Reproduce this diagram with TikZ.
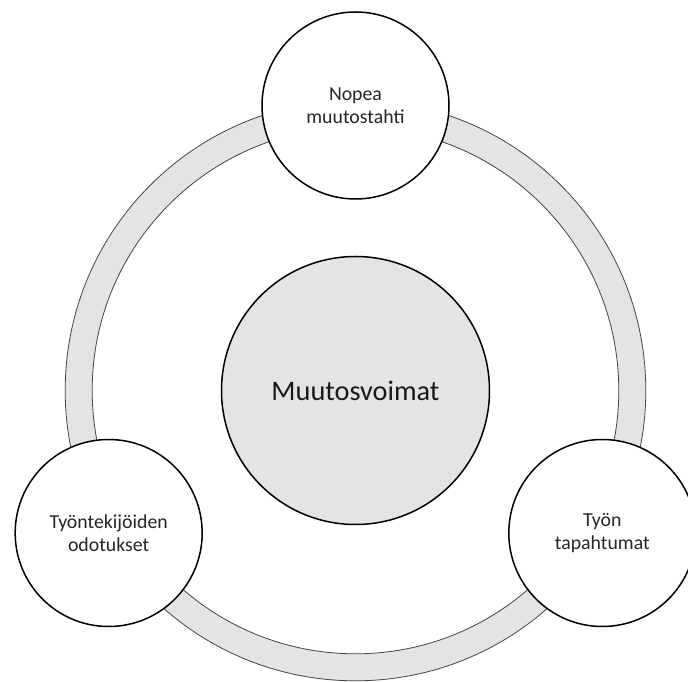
\documentclass[tikz,border=0pt]{standalone}
\usepackage{fontspec}
\setmainfont{Carlito}
\usetikzlibrary{positioning}
\definecolor{ringgray}{RGB}{228,228,228}
\definecolor{ringline}{RGB}{70,70,70}
\tikzset{
  force/.style={circle, draw=black, line width=1.5pt, fill=white,
    minimum size=187pt, inner sep=0pt, align=center,
    font=\fontsize{19.8}{23}\selectfont, text=black!85},
  core/.style={circle, draw=black, line width=1.5pt, fill=ringgray,
    minimum size=268pt, inner sep=0pt,
    font=\fontsize{28.3}{34}\selectfont, text=black!90}
}

\begin{document}
\begin{tikzpicture}[x=1pt, y=1pt]
  \useasboundingbox (-355.5,-291.5) rectangle (332.5,390.5);
  % ring behind the three circles
  \fill[ringgray, even odd rule] (0,0) circle (290.5pt) (0,0) circle (263pt);
  \draw[ringline, line width=0.8pt] (0,0) circle (290.3pt) (0,0) circle (263.3pt);
  \node[core] (core) at (0,0) {Muutosvoimat};
  \foreach[count=\i] \ang/\txt in {90/{Nopea\\muutostahti},
      210/{Työntekijöiden\\odotukset}, 330/{Työn\\tapahtumat}} {
    \node[force] (f-\i) at (\ang:285pt) {\txt};
  }
\end{tikzpicture}
\end{document}
